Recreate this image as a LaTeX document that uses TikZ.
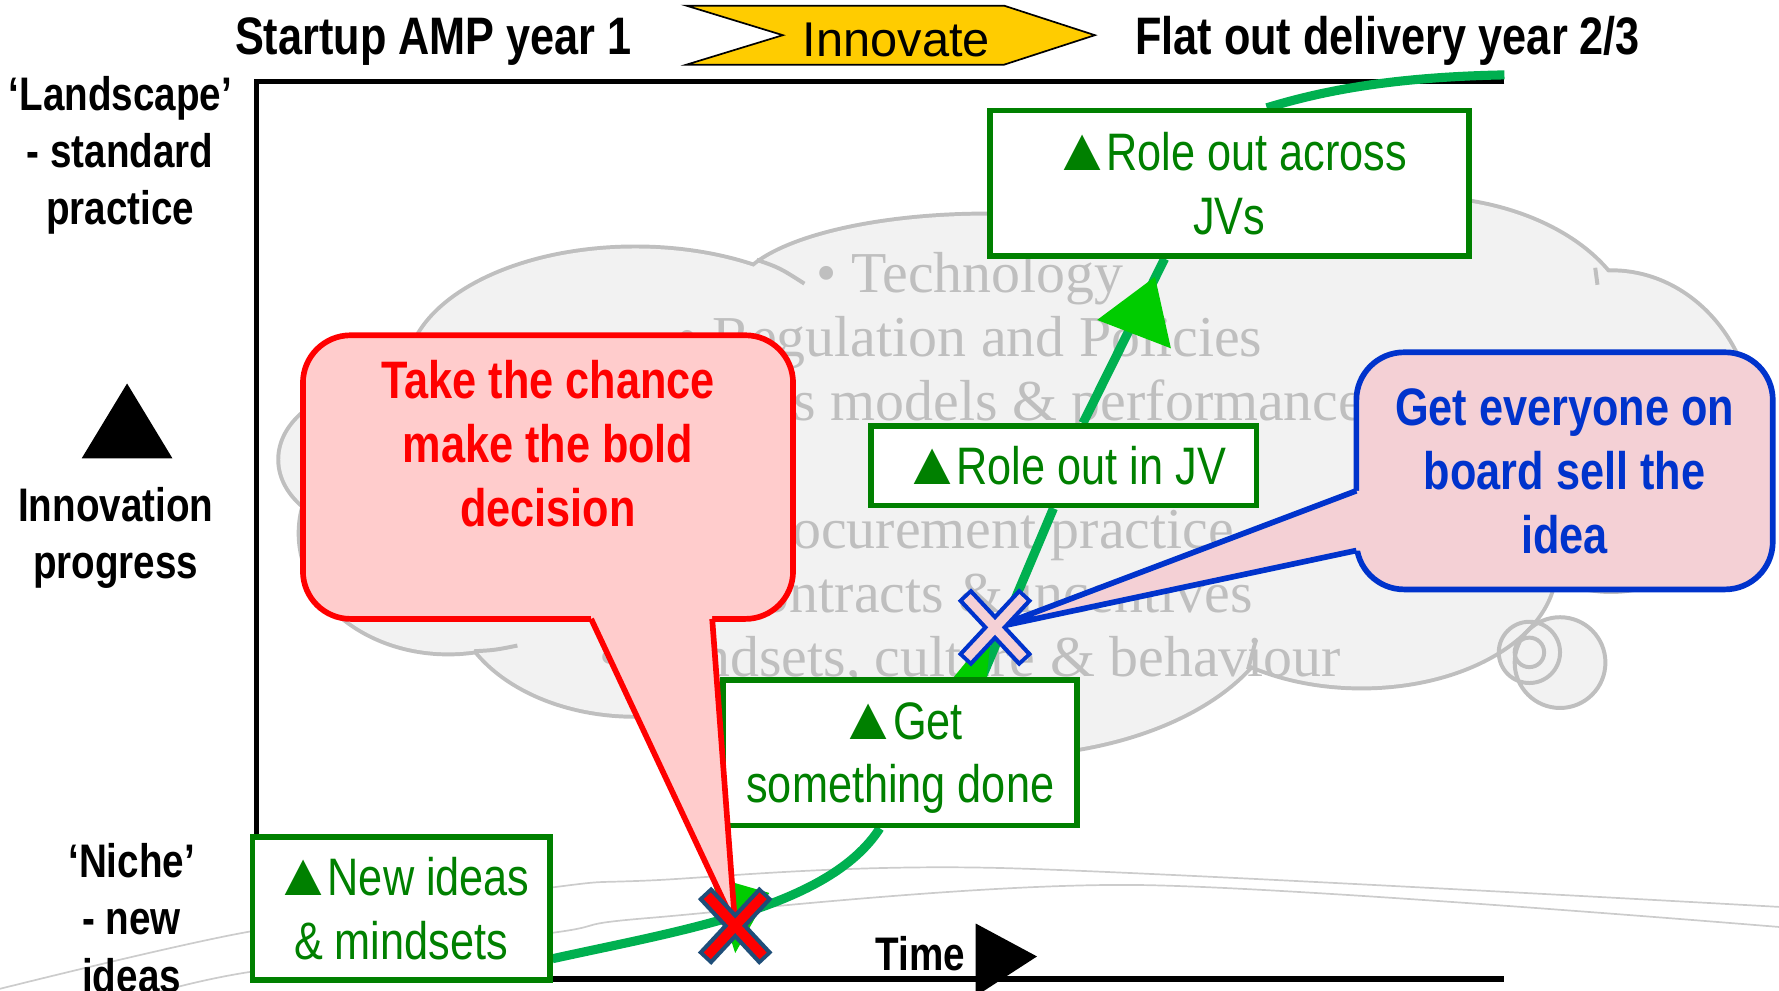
\documentclass[tikz,border=0pt]{standalone}
\usepackage{graphicx}
\usepackage{fontspec}
\setmainfont{Liberation Sans}
\newfontfamily\narrowfont[FakeStretch=0.82]{Liberation Sans}
\newfontfamily\cloudfont{Liberation Serif}
\usetikzlibrary{calc}
\definecolor{boxgreen}{HTML}{008000}
\definecolor{pathgreen}{HTML}{00B050}
\definecolor{tipgreen}{HTML}{00CC00}
\definecolor{cloudfill}{HTML}{F2F2F2}
\definecolor{cloudline}{HTML}{BFBFBF}
\definecolor{chancefill}{HTML}{FFCCCC}
\definecolor{boardblue}{HTML}{0033CC}
\definecolor{boardfill}{HTML}{F4D0D5}
\definecolor{signyellow}{HTML}{FFCC00}
\definecolor{xnavy}{HTML}{1F4E79}
\newcommand{\uptri}{\scalebox{1.45}[1.15]{▲}\kern-6pt}
\pgfdeclarelayer{back}
\pgfdeclarelayer{track}
\pgfsetlayers{back,track,main}

\begin{document}
\begin{tikzpicture}[x={(1pt,0)},y={(0,-1pt)},
    stage/.style={draw=boxgreen,line width=5pt,fill=white,text=boxgreen,align=center,inner sep=0pt,text depth=0pt,font=\narrowfont\fontsize{46.5}{56}\selectfont},
    axislabel/.style={align=center,inner sep=0pt,font=\narrowfont\bfseries\fontsize{41.5}{50.5}\selectfont},
    heading/.style={inner sep=0pt,anchor=base,font=\narrowfont\bfseries\fontsize{46.5}{56}\selectfont},
    bubble/.style={line width=5pt,rounded corners=42pt,align=center,inner sep=0pt,outer sep=0pt,font=\narrowfont\bfseries\fontsize{46.5}{56.5}\selectfont},
    puff/.style={draw=cloudline,line width=7pt,fill=cloudfill},
    track/.style={pathgreen,line width=8pt}]
  \useasboundingbox(0,0)rectangle(1568,873);
  \begin{pgfonlayer}{back}
    \draw[gray!40,line width=1.5pt]plot[smooth]coordinates{(-10,874)(215,822)(488,782)(573,776)(880,765)(1580,800)};
    \draw[gray!40,line width=1.5pt]plot[smooth]coordinates{(120,880)(218,857)(488,822)(573,809)(1000,780)(1580,818)};
    \fill[cloudfill](1375,584)circle[radius=40](1348,575)circle[radius=27];
    \foreach \cx/\cy/\rx/\ry in {340/405/93/64,560/329/200/110,870/260/220/70,1250/300/190/125,1420/380/125/140,1200/500/170/105,560/520/160/110,880/520/250/145,395/470/130/105}
      \draw[puff](\cx,\cy)ellipse[x radius=\rx,y radius=\ry];
    \foreach \cx/\cy/\rx/\ry in {340/405/93/64,560/329/200/110,870/260/220/70,1250/300/190/125,1420/380/125/140,1200/500/170/105,560/520/160/110,880/520/250/145,395/470/130/105}
      \fill[cloudfill](\cx,\cy)ellipse[x radius=\rx,y radius=\ry];
    \fill[cloudfill](400,300)rectangle(1450,500)(880,215)rectangle(1290,300);
    \draw[cloudline,line width=3.5pt](667,229)..controls(687,236)..(709,250);
    \draw[cloudline,line width=3.5pt](418,574)..controls(436,573)..(456,569);
    \draw[cloudline,line width=3.5pt](1406,236)--(1408,251);
    \draw[cloudline,line width=3.5pt](1100,590)..controls(1103,577)..(1107,564);
    \draw[cloudline,line width=3.5pt](1375,584)circle[radius=40](1348,575)circle[radius=27](1348,575)circle[radius=13];
    \node[align=center,inner sep=0pt,text depth=0pt,text=cloudline,font=\cloudfont\fontsize{51}{56.4}\selectfont](factors)at(855,409)
      {• Technology\\• Regulation and Policies\\• Business models \& performance\\\mbox{}\\• Procurement practice\\• Contracts \& incentives\\• Mindsets, culture \& behaviour};
    \draw[line width=4pt](1326,72)--(226,72)--(226,863);
    \draw[line width=5pt](226,863)--(1326,863);
  \end{pgfonlayer}
  \filldraw[fill=signyellow,draw=black,line width=1.5pt](605,5)--(885,5)--(965,31)--(885,57)--(605,57)--(690,31)--cycle;
  \node[inner sep=0pt,anchor=base,font=\fontsize{43}{50}\selectfont](innovate)at(790,50){Innovate};
  \node[heading](startup)at(382,48){Startup AMP year 1};
  \node[heading](flatout)at(1223,48){Flat out delivery year 2/3};
  \node[axislabel](landscape)at(106,137){‘Landscape’\\- standard\\practice};
  \fill(112,338)--(152,404)--(72,404)--cycle;
  \node[axislabel](progress)at(102,474){Innovation\\progress};
  \node[axislabel](niche)at(116,809){‘Niche’\\- new\\ideas};
  \fill(860,814)--(914,843)--(860,878)--cycle;
  \node[axislabel,anchor=base east](time)at(851,855){Time};
  \coordinate(plateau)at(1326,66);
  \coordinate(bold)at(648,816);
  \coordinate(sell)at(877,553);
  \node[stage,minimum width=262,minimum height=126](new)at(353.5,800.5){\uptri New ideas\\\& mindsets};
  \node[stage,minimum width=312,minimum height=128](get)at(793.5,663.5){\uptri Get\\something done};
  \node[stage,minimum width=340,minimum height=70](jv)at(937.5,410.5){\uptri Role out in JV};
  \node[stage,minimum width=422,minimum height=128](jvs)at(1083.5,161.5){\uptri Role out across\\JVs};
  \begin{pgfonlayer}{track}
    \draw[track]([yshift=21pt]new.south east)..controls +(113,-25) and +(-45,70)..([xshift=-18pt]get.south);
    \draw[track]([xshift=72pt]get.north)--([xshift=-9pt]jv.south);
    \draw[track]([xshift=17pt]jv.north)--([xshift=-57pt]jvs.south);
    \draw[track]([xshift=33pt]jvs.north)..controls +(43,-13) and +(-106,2)..(plateau);
    \fill[tipgreen](1018,244)--(1032,307)--(967,282)--cycle;
    \fill[tipgreen](874,556)--(868,612)--(838,600)--cycle;
    \fill[tipgreen](678,787)--(648,840)--(626,772)--cycle;
  \end{pgfonlayer}
  \node[bubble,draw=red,fill=chancefill,text=red,minimum width=432,minimum height=250,text depth=60pt](chance)at(483,420.5){Take the chance\\make the bold\\decision};
  \coordinate(cl)at($(chance.south west)!0.588!(chance.south east)$);
  \coordinate(cr)at($(chance.south west)!0.835!(chance.south east)$);
  \fill[chancefill]($(cl)+(0,-8)$)--(cl)--(bold)--(cr)--($(cr)+(0,-8)$)--cycle;
  \draw[red,line width=5pt](cl)--(bold)--(cr);
  \node[bubble,draw=boardblue,fill=boardfill,text=boardblue,minimum width=367,minimum height=209,text depth=0pt](board)at(1379,415){Get everyone on\\board sell the\\idea};
  \coordinate(bt)at($(board.north west)!0.584!(board.south west)$);
  \coordinate(bb)at($(board.north west)!0.836!(board.south west)$);
  \fill[boardfill]($(bt)+(8,0)$)--(bt)--(sell)--(bb)--($(bb)+(8,0)$)--cycle;
  \draw[boardblue,line width=5pt](bt)--(sell)--(bb);
  \foreach \c/\f/\d in {bold/red/xnavy,sell/boardfill/boardblue}{
    \draw[\d,line width=16pt]($(\c)+(-27,-29)$)--($(\c)+(27,29)$);
    \draw[\d,line width=16pt]($(\c)+(27,-29)$)--($(\c)+(-27,29)$);
    \draw[\f,line width=8.5pt,shorten <=3.5pt,shorten >=3.5pt]($(\c)+(-27,-29)$)--($(\c)+(27,29)$);
    \draw[\f,line width=8.5pt,shorten <=3.5pt,shorten >=3.5pt]($(\c)+(27,-29)$)--($(\c)+(-27,29)$);
  }
\end{tikzpicture}
\end{document}
